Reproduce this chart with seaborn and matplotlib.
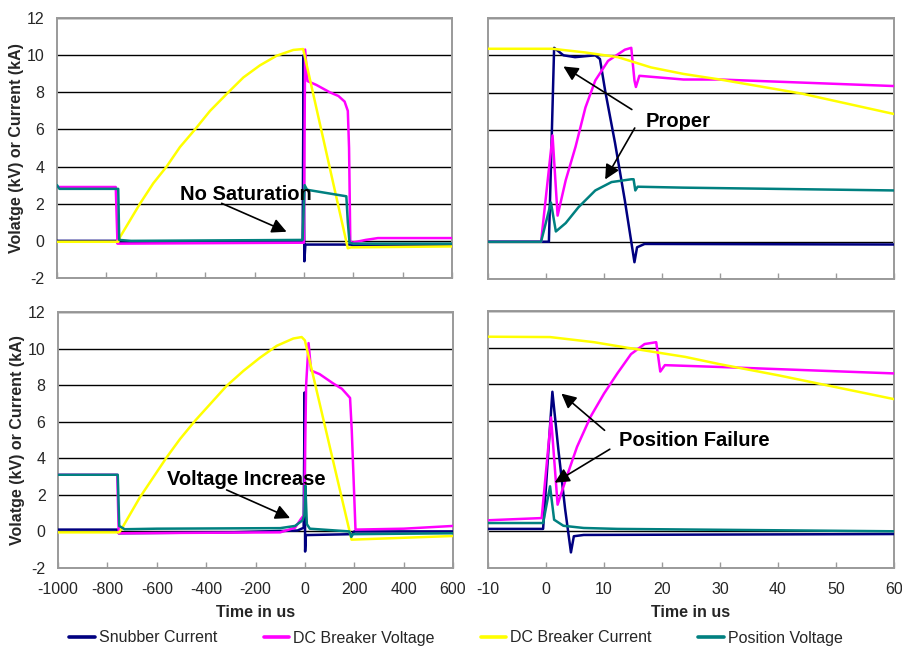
import matplotlib
matplotlib.use("Agg")
import matplotlib.pyplot as plt
from matplotlib.lines import Line2D
import seaborn as sns
import pandas as pd

# ---------------- data ----------------
series_names = ["Snubber Current", "DC Breaker Voltage", "DC Breaker Current", "Position Voltage"]
series_colors = ["#000080", "#FF00FF", "#FFFF00", "#008080"]

# Top-left panel (time in us, -1000..600) -- "No Saturation"
tl_snub_x = [-1000, -760, -755, -300, -5, -1, 0.5, 2, 6, 190, 200, 600]
tl_snub_y = [0.0, 0.0, -0.1, -0.05, -0.05, 10.0, 2.0, -1.1, -0.2, -0.2, -0.25, -0.25]
tl_volt_x = [-1000, -762, -755, -10, 0, 5, 15, 50, 105, 140, 165, 178, 183, 188, 195, 250, 300, 600]
tl_volt_y = [2.9, 2.9, -0.15, -0.1, -0.1, 10.3, 8.6, 8.4, 8.0, 7.8, 7.5, 7.0, 5.0, 0.0, -0.1, 0.05, 0.15, 0.15]
tl_curr_x = [-1000, -752, -745, -664, -610, -556, -502, -441, -380, -306, -245, -178, -110, -43, -3,
             178, 190, 600]
tl_curr_y = [-0.05, -0.05, 0.2, 2.0, 3.1, 4.0, 5.05, 6.0, 7.0, 8.0, 8.8, 9.45, 9.97, 10.28, 10.33,
             -0.4, -0.35, -0.3]
tl_pos_x = [-1000, -990, -752, -748, -700, -5, 0, 3, 13, 172, 178, 185, 200, 600]
tl_pos_y = [3.0, 2.8, 2.8, 0.05, 0.0, 0.05, 2.0, 3.0, 2.75, 2.4, 1.0, -0.1, -0.15, -0.15]

# Top-right panel (time in us, -10..60) -- "Proper"
tr_snub_x = [-10, 0.5, 1.4, 3, 5, 8.5, 9.3, 10.2, 11.9, 13.6, 14.7, 15.25, 15.7, 17, 60]
tr_snub_y = [0.0, 0.0, 10.4, 10.0, 9.9, 10.0, 9.8, 8.1, 5.3, 2.2, 0.0, -1.1, -0.3, -0.12, -0.15]
tr_volt_x = [-10, -0.85, 1.13, 2.0, 3.4, 5.1, 6.8, 8.5, 10.7, 13.6, 14.7, 15.25, 15.5, 16.1, 23.7, 30, 60]
tr_volt_y = [0.0, 0.0, 5.7, 1.4, 3.3, 5.1, 7.2, 8.65, 9.7, 10.3, 10.4, 8.65, 8.3, 8.9, 8.7, 8.7, 8.35]
tr_curr_x = [-10, 1.1, 6.8, 12.4, 18.1, 23.7, 30, 44, 60]
tr_curr_y = [10.35, 10.35, 10.15, 9.9, 9.35, 9.0, 8.7, 7.95, 6.85]
tr_pos_x = [-10, -0.85, 0.85, 1.7, 3.4, 5.6, 8.5, 11.3, 14.7, 15.1, 15.4, 15.8, 23.7, 60]
tr_pos_y = [0.0, 0.0, 2.1, 0.55, 1.0, 1.85, 2.75, 3.2, 3.35, 3.35, 2.75, 2.95, 2.9, 2.75]

# Bottom-left panel (time in us, -1000..600) -- "Voltage Increase"
bl_snub_x = [-1000, -760, -754, -300, -30, -5, -1, 0, 1, 4, 190, 200, 600]
bl_snub_y = [0.1, 0.1, -0.1, -0.05, 0.05, 0.2, 7.6, 3.0, -1.1, -0.2, -0.15, 0.0, 0.0]
bl_volt_x = [-1000, -760, -754, -100, -40, -15, -3, 5, 15, 25, 60, 114, 150, 170, 183, 190, 205, 400, 600]
bl_volt_y = [3.1, 3.1, -0.1, -0.05, 0.2, 0.7, 0.9, 8.0, 10.3, 8.8, 8.6, 8.1, 7.8, 7.5, 7.3, 5.5, 0.1, 0.15, 0.3]
bl_curr_x = [-1000, -752, -742, -668, -614, -560, -506, -445, -384, -317, -249, -182, -114, -47, -13,
             0, 189, 600]
bl_curr_y = [-0.05, -0.05, 0.15, 1.87, 2.96, 4.05, 5.05, 6.05, 6.96, 7.96, 8.78, 9.5, 10.15, 10.55,
             10.63, 10.45, -0.45, -0.25]
bl_pos_x = [-1000, -758, -752, -730, -600, -100, -40, -10, -2, 2, 8, 20, 180, 188, 195, 600]
bl_pos_y = [3.1, 3.1, 0.3, 0.12, 0.15, 0.18, 0.3, 0.6, 0.9, 2.5, 0.4, 0.15, 0.0, -0.3, -0.15, -0.1]

# Bottom-right panel (time in us, -10..60) -- "Position Failure"
br_snub_x = [-10, -0.5, 1.1, 2.15, 3.3, 4.3, 4.8, 6.5, 60]
br_snub_y = [0.13, 0.13, 7.6, 4.4, 1.2, -1.15, -0.27, -0.2, -0.15]
br_volt_x = [-10, -0.75, 0.87, 2.0, 3.6, 5.35, 7.7, 10, 12.3, 14.65, 17, 19, 19.7, 20.5, 30, 60]
br_volt_y = [0.6, 0.72, 6.2, 1.45, 3.0, 4.6, 6.25, 7.5, 8.6, 9.65, 10.2, 10.3, 8.7, 9.05, 8.95, 8.6]
br_curr_x = [-10, 0.7, 8.3, 14, 24, 30, 40, 50, 60]
br_curr_y = [10.6, 10.58, 10.3, 10.0, 9.5, 9.1, 8.5, 7.85, 7.2]
br_pos_x = [-10, -0.5, 0.7, 1.4, 3, 6.5, 12.3, 60]
br_pos_y = [0.45, 0.45, 2.45, 0.63, 0.3, 0.18, 0.13, 0.0]

left_xticks = [-1000, -800, -600, -400, -200, 0, 200, 400, 600]
right_xticks = [-10, 0, 10, 20, 30, 40, 50, 60]
yticks = [-2, 0, 2, 4, 6, 8, 10, 12]

# ---------------- styling ----------------
sns.set_theme(style="white")
plt.rcParams["font.family"] = ["Liberation Sans", "DejaVu Sans"]
plt.rcParams["axes.unicode_minus"] = False

W, H = 902, 654
fig = plt.figure(figsize=(W / 100, H / 100), dpi=100)


def rect(l, t, r, b):
    return [l / W, 1 - b / H, (r - l) / W, (b - t) / H]


panels = {
    "tl": dict(rect=rect(57, 18, 452, 278), xs=[tl_snub_x, tl_volt_x, tl_curr_x, tl_pos_x],
               ys=[tl_snub_y, tl_volt_y, tl_curr_y, tl_pos_y], xlim=(-1000, 600), xt=left_xticks,
               ylab=True, xlab=False),
    "tr": dict(rect=rect(488, 18, 894, 279), xs=[tr_snub_x, tr_volt_x, tr_curr_x, tr_pos_x],
               ys=[tr_snub_y, tr_volt_y, tr_curr_y, tr_pos_y], xlim=(-10, 60), xt=right_xticks,
               ylab=False, xlab=False),
    "bl": dict(rect=rect(58, 312, 453, 568), xs=[bl_snub_x, bl_volt_x, bl_curr_x, bl_pos_x],
               ys=[bl_snub_y, bl_volt_y, bl_curr_y, bl_pos_y], xlim=(-1000, 600), xt=left_xticks,
               ylab=True, xlab=True),
    "br": dict(rect=rect(488, 311, 894, 568), xs=[br_snub_x, br_volt_x, br_curr_x, br_pos_x],
               ys=[br_snub_y, br_volt_y, br_curr_y, br_pos_y], xlim=(-10, 60), xt=right_xticks,
               ylab=False, xlab=True),
}

axes = {}
for key, p in panels.items():
    ax = fig.add_axes(p["rect"])
    frames = []
    for name, xv, yv in zip(series_names, p["xs"], p["ys"]):
        frames.append(pd.DataFrame({"t": xv, "v": yv, "series": name}))
    df = pd.concat(frames, ignore_index=True)
    sns.lineplot(data=df, x="t", y="v", hue="series", hue_order=series_names,
                 palette=dict(zip(series_names, series_colors)), estimator=None,
                 sort=False, legend=False, linewidth=1.8, ax=ax, zorder=3)
    ax.set_xlim(*p["xlim"])
    ax.set_ylim(-2, 12)
    ax.set_xticks(p["xt"])
    ax.set_yticks(yticks)
    ax.set_axisbelow(True)
    ax.yaxis.grid(True, color="black", linewidth=1.0)
    ax.xaxis.grid(False)
    for s in ax.spines.values():
        s.set_color("#9a9a9a")
        s.set_linewidth(1.4)
        s.set_visible(True)
    ax.tick_params(axis="x", direction="in", length=4, width=1, color="#9a9a9a",
                   bottom=True, pad=10, labelsize=11.5, labelbottom=p["xlab"])
    ax.tick_params(axis="y", length=0, pad=9, labelsize=11.5, labelleft=p["ylab"])
    ax.set_xlabel("Time in us" if p["xlab"] else "", fontsize=11.5, fontweight="bold", labelpad=6)
    ax.set_ylabel("Volatge (kV) or Current (kA)" if p["ylab"] else "", fontsize=11.5,
                  fontweight="bold", labelpad=2)
    axes[key] = ax

arrow = dict(arrowstyle="-|>", color="black", lw=1.2, mutation_scale=22, shrinkA=0, shrinkB=0)
txt = dict(fontsize=14.5, fontweight="bold", color="black", ha="left", va="center")

ax = axes["tl"]
ax.text(-502, 2.47, "No Saturation", **txt, zorder=6)
ax.annotate("", xy=(-70, 0.49), xytext=(-333, 2.02), arrowprops=arrow, zorder=6)

ax = axes["tr"]
ax.text(17.1, 6.46, "Proper", **txt, zorder=6)
ax.annotate("", xy=(3.0, 9.4), xytext=(14.8, 7.09), arrowprops=arrow, zorder=6)
ax.annotate("", xy=(10.2, 3.34), xytext=(15.3, 6.1), arrowprops=arrow, zorder=6)

ax = axes["bl"]
ax.text(-560, 2.82, "Voltage Increase", **txt, zorder=6)
ax.annotate("", xy=(-60, 0.73), xytext=(-317, 2.27), arrowprops=arrow, zorder=6)

ax = axes["br"]
ax.text(12.6, 4.97, "Position Failure", **txt, zorder=6)
ax.annotate("", xy=(2.66, 7.5), xytext=(10.1, 5.5), arrowprops=arrow, zorder=6)
ax.annotate("", xy=(1.5, 2.65), xytext=(11.0, 4.47), arrowprops=arrow, zorder=6)

handles = [Line2D([0], [0], color=c, lw=2.6) for c in series_colors]
fig.legend(handles, series_names, loc="center", bbox_to_anchor=(456 / W, 1 - 638 / H),
           ncol=4, frameon=False, handlelength=1.6, handletextpad=0.25,
           columnspacing=2.9, fontsize=11.5)

fig.savefig("out.png", dpi=100)
